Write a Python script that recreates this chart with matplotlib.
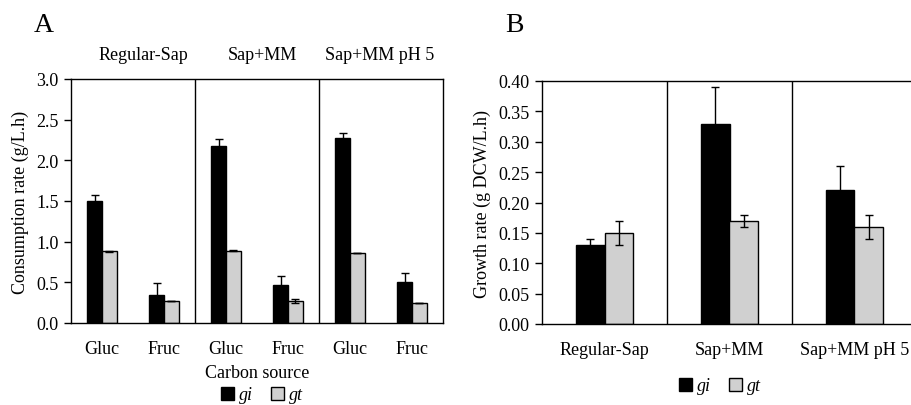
import matplotlib
matplotlib.use("Agg")
import matplotlib.pyplot as plt
import matplotlib.transforms as mtransforms
from matplotlib.patches import Patch
import numpy as np

plt.rcParams['font.family'] = ['Liberation Serif', 'DejaVu Serif']

# ---- Panel A data ----
a_conditions = ["Regular-Sap", "Sap+MM", "Sap+MM pH 5"]
a_sources = ["Gluc", "Fruc", "Gluc", "Fruc", "Gluc", "Fruc"]
a_gi = [1.50, 0.34, 2.18, 0.47, 2.28, 0.51]
a_gi_err = [0.07, 0.15, 0.08, 0.11, 0.05, 0.10]
a_gt = [0.88, 0.27, 0.89, 0.27, 0.86, 0.25]
a_gt_err = [0.01, 0.0, 0.01, 0.02, 0.0, 0.0]
a_yticks = [0.0, 0.5, 1.0, 1.5, 2.0, 2.5, 3.0]

# ---- Panel B data ----
b_conditions = ["Regular-Sap", "Sap+MM", "Sap+MM pH 5"]
b_gi = [0.13, 0.33, 0.22]
b_gi_err = [0.01, 0.06, 0.04]
b_gt = [0.15, 0.17, 0.16]
b_gt_err = [0.02, 0.01, 0.02]
b_yticks = [0.00, 0.05, 0.10, 0.15, 0.20, 0.25, 0.30, 0.35, 0.40]

series_names = ["gi", "gt"]
c_gi = "#000000"
c_gt = "#d0d0d0"

W, H = 912, 406
fig = plt.figure(figsize=(W / 100, H / 100), dpi=100)

def px_axes(l, r, t, b):
    return fig.add_axes([l / W, (H - b) / H, (r - l) / W, (b - t) / H])

fs = 13
lw = 1.0

# ---------- Panel A ----------
axA = px_axes(71, 443, 80, 324)
x = np.arange(len(a_sources))
bw = 0.24
ekw = dict(ecolor="black", elinewidth=1.0, capsize=3, capthick=1.0)
axA.bar(x - bw / 2, a_gi, bw, color=c_gi, edgecolor="black", linewidth=lw,
        yerr=a_gi_err, error_kw=ekw, zorder=2)
axA.bar(x + bw / 2, a_gt, bw, color=c_gt, edgecolor="black", linewidth=lw,
        yerr=a_gt_err, error_kw=ekw, zorder=2)
axA.set_xlim(-0.5, len(a_sources) - 0.5)
axA.set_ylim(0, 3.0)
axA.set_yticks(a_yticks)
axA.set_yticklabels([f"{v:.1f}" for v in a_yticks], fontsize=fs)
axA.set_xticks(x)
axA.set_xticklabels(a_sources, fontsize=fs)
axA.tick_params(axis="x", length=0, pad=12)
axA.tick_params(axis="y", length=5, width=lw, direction="out", pad=4)
for s in axA.spines.values():
    s.set_linewidth(lw)
for d in [1.5, 3.5]:
    axA.axvline(d, color="black", linewidth=lw)
axA.set_ylabel("Consumption rate (g/L.h)", fontsize=fs, labelpad=5)
axA.set_xlabel("Carbon source", fontsize=fs, labelpad=5)
trA = mtransforms.blended_transform_factory(axA.transData, axA.transAxes)
for xc, lab in zip([0.66, 2.58, 4.48], a_conditions):
    axA.text(xc, 1.10, lab, transform=trA, ha="center", va="center", fontsize=fs)
fig.text(44 / W, 1 - 25 / H, "A", fontsize=20, ha="center", va="center")

# ---------- Panel B ----------
axB = px_axes(542, 917, 82, 325)
xb = np.arange(len(b_conditions))
bwb = 0.23
axB.bar(xb - bwb / 2, b_gi, bwb, color=c_gi, edgecolor="black", linewidth=lw,
        yerr=b_gi_err, error_kw=ekw, zorder=2)
axB.bar(xb + bwb / 2, b_gt, bwb, color=c_gt, edgecolor="black", linewidth=lw,
        yerr=b_gt_err, error_kw=ekw, zorder=2)
axB.set_xlim(-0.5, len(b_conditions) - 0.5)
axB.set_ylim(0, 0.40)
axB.set_yticks(b_yticks)
axB.set_yticklabels([f"{v:.2f}" for v in b_yticks], fontsize=fs)
axB.set_xticks(xb)
axB.set_xticklabels(b_conditions, fontsize=fs)
axB.tick_params(axis="x", length=0, pad=12)
axB.tick_params(axis="y", length=5, width=lw, direction="out", pad=4)
for s in axB.spines.values():
    s.set_linewidth(lw)
for d in [0.5, 1.5]:
    axB.axvline(d, color="black", linewidth=lw)
axB.set_ylabel("Growth rate (g DCW/L.h)", fontsize=fs, labelpad=5)
fig.text(514 / W, 1 - 25 / H, "B", fontsize=20, ha="center", va="center")

# ---------- Legends ----------
handles = [Patch(facecolor=c_gi, edgecolor="black", linewidth=lw),
           Patch(facecolor=c_gt, edgecolor="black", linewidth=lw)]
legkw = dict(ncol=2, frameon=False, handlelength=0.7, handleheight=0.7,
             handletextpad=0.3, columnspacing=1.0, loc="center",
             prop={"style": "italic", "size": fs})
fig.legend(handles, series_names, bbox_to_anchor=(262 / W, 1 - 396 / H), **legkw)
fig.legend(handles, series_names, bbox_to_anchor=(720 / W, 1 - 387 / H), **legkw)

fig.savefig("out.png", dpi=100)
